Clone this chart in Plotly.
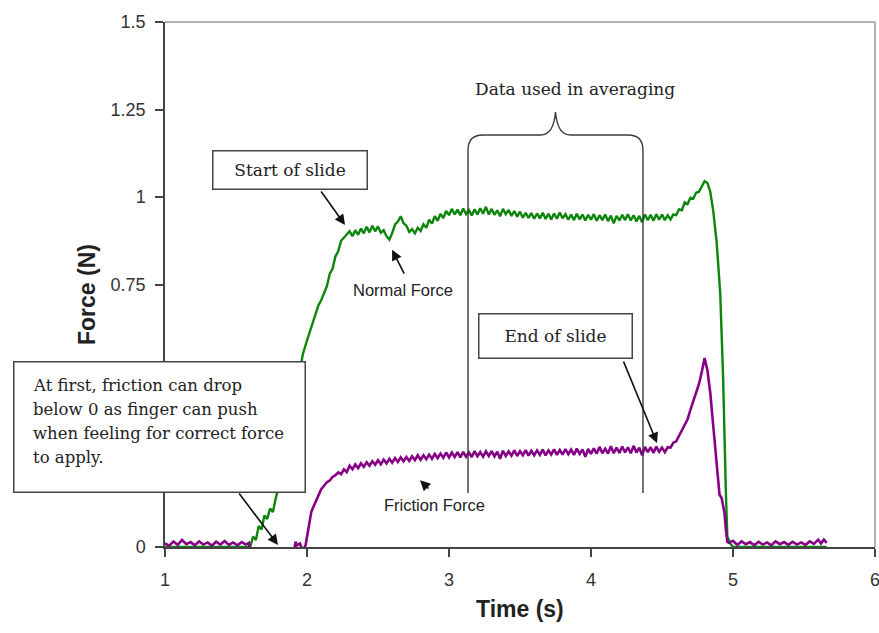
import plotly.graph_objects as go

# ---- measured traces (time in s, force in N) ----
normal_time = [
    1.00, 1.60, 1.62, 1.64, 1.66, 1.68, 1.70, 1.72, 1.74, 1.76, 1.78, 1.80, 1.90, 1.97,
    2.00, 2.02, 2.04, 2.06, 2.08, 2.10, 2.12, 2.14, 2.16, 2.18, 2.20, 2.22, 2.24, 2.26, 2.28,
    2.30, 2.32, 2.34, 2.36, 2.38, 2.40, 2.42, 2.44, 2.46, 2.48, 2.50, 2.52, 2.54, 2.56, 2.58,
    2.60, 2.62, 2.64, 2.66, 2.68, 2.70, 2.72, 2.74, 2.76, 2.78, 2.80, 2.82, 2.84, 2.86, 2.88,
    2.90, 2.92, 2.94, 2.96, 2.98, 3.00, 3.02, 3.04, 3.06, 3.08, 3.10, 3.12, 3.14, 3.16, 3.18,
    3.20, 3.22, 3.24, 3.26, 3.28, 3.30, 3.32, 3.34, 3.36, 3.38, 3.40, 3.42, 3.44, 3.46, 3.48,
    3.50, 3.52, 3.54, 3.56, 3.58, 3.60, 3.62, 3.64, 3.66, 3.68, 3.70, 3.72, 3.74, 3.76, 3.78,
    3.80, 3.82, 3.84, 3.86, 3.88, 3.90, 3.92, 3.94, 3.96, 3.98, 4.00, 4.02, 4.04, 4.06, 4.08,
    4.10, 4.12, 4.14, 4.16, 4.18, 4.20, 4.22, 4.24, 4.26, 4.28, 4.30, 4.32, 4.34, 4.36, 4.38,
    4.40, 4.42, 4.44, 4.46, 4.48, 4.50, 4.52, 4.54, 4.56, 4.58, 4.60, 4.62, 4.64, 4.66, 4.68,
    4.70, 4.72, 4.74, 4.76, 4.78, 4.80, 4.82, 4.84, 4.86, 4.885, 4.91, 4.93, 4.95, 4.96,
    4.98, 5.00, 5.66,
]
normal_force = [
    0.00, 0.00, 0.03, 0.02, 0.06, 0.05, 0.09, 0.08, 0.11, 0.10, 0.14, 0.17, 0.38, 0.55,
    0.59, 0.615, 0.64, 0.665, 0.69, 0.705, 0.725, 0.745, 0.78, 0.795, 0.83, 0.845, 0.875, 0.885, 0.892,
    0.902, 0.888, 0.905, 0.892, 0.910, 0.896, 0.915, 0.899, 0.918, 0.902, 0.916, 0.898, 0.905, 0.888, 0.878,
    0.897, 0.922, 0.930, 0.945, 0.925, 0.918, 0.900, 0.908, 0.896, 0.912, 0.903, 0.922, 0.912, 0.935, 0.924,
    0.945, 0.932, 0.952, 0.940, 0.960, 0.948, 0.966, 0.950, 0.964, 0.948, 0.967, 0.951, 0.963, 0.947, 0.965,
    0.950, 0.968, 0.952, 0.972, 0.950, 0.966, 0.949, 0.962, 0.945, 0.966, 0.951, 0.963, 0.946, 0.960, 0.944,
    0.958, 0.941, 0.955, 0.940, 0.954, 0.938, 0.953, 0.939, 0.955, 0.937, 0.952, 0.936, 0.953, 0.938, 0.956,
    0.939, 0.951, 0.935, 0.950, 0.934, 0.952, 0.936, 0.950, 0.933, 0.949, 0.935, 0.951, 0.932, 0.948, 0.934,
    0.950, 0.931, 0.947, 0.925, 0.946, 0.933, 0.949, 0.934, 0.951, 0.933, 0.948, 0.930, 0.946, 0.928, 0.950,
    0.934, 0.949, 0.932, 0.951, 0.935, 0.950, 0.934, 0.948, 0.936, 0.950, 0.948, 0.965, 0.962, 0.985, 0.980,
    0.998, 0.995, 1.012, 1.015, 1.030, 1.045, 1.040, 1.015, 0.963, 0.870, 0.725, 0.490, 0.154, 0.030,
    0.010, 0.000, 0.000,
]

friction_time = [
    1.00, 1.03, 1.06, 1.09, 1.12, 1.15, 1.18, 1.21, 1.24, 1.27, 1.30, 1.33, 1.36, 1.39,
    1.42, 1.45, 1.48, 1.51, 1.54, 1.57, 1.59, 1.61, 1.75, 1.90, 1.92, 1.93, 1.95, 1.97,
    1.99, 2.00, 2.01, 2.02, 2.03, 2.04, 2.06, 2.08, 2.10, 2.12, 2.14, 2.16, 2.18, 2.20,
    2.22, 2.24, 2.26, 2.28,
    2.30, 2.32, 2.34, 2.36, 2.38, 2.40, 2.42, 2.44, 2.46, 2.48, 2.50, 2.52, 2.54, 2.56, 2.58,
    2.60, 2.62, 2.64, 2.66, 2.68, 2.70, 2.72, 2.74, 2.76, 2.78, 2.80, 2.82, 2.84, 2.86, 2.88,
    2.90, 2.92, 2.94, 2.96, 2.98, 3.00, 3.02, 3.04, 3.06, 3.08, 3.10, 3.12, 3.14, 3.16, 3.18,
    3.20, 3.22, 3.24, 3.26, 3.28, 3.30, 3.32, 3.34, 3.36, 3.38, 3.40, 3.42, 3.44, 3.46, 3.48,
    3.50, 3.52, 3.54, 3.56, 3.58, 3.60, 3.62, 3.64, 3.66, 3.68, 3.70, 3.72, 3.74, 3.76, 3.78,
    3.80, 3.82, 3.84, 3.86, 3.88, 3.90, 3.92, 3.94, 3.96, 3.98, 4.00, 4.02, 4.04, 4.06, 4.08,
    4.10, 4.12, 4.14, 4.16, 4.18, 4.20, 4.22, 4.24, 4.26, 4.28, 4.30, 4.32, 4.34, 4.36, 4.38,
    4.40, 4.42, 4.44, 4.46, 4.48, 4.50, 4.52, 4.54, 4.56, 4.58, 4.60, 4.62, 4.64, 4.66, 4.68,
    4.70, 4.72, 4.74, 4.76, 4.78, 4.80, 4.82, 4.84, 4.86, 4.87, 4.89, 4.905, 4.92, 4.94, 4.95,
    4.96, 4.97, 5.00, 5.03, 5.06, 5.09, 5.12, 5.15, 5.18, 5.21, 5.24, 5.27, 5.30, 5.33, 5.36,
    5.39, 5.42, 5.45, 5.48, 5.51, 5.54, 5.57, 5.60, 5.62, 5.64, 5.66,
]
friction_force = [
    0.010, 0.004, 0.016, 0.006, 0.020, 0.008, 0.014, 0.005, 0.016, 0.007, 0.013, 0.004, 0.015, 0.007,
    0.017, 0.006, 0.013, 0.005, 0.014, 0.007, 0.012, -0.04, -0.05, -0.03, 0.015, 0.005, 0.010, -0.010,
    0.005, 0.030, 0.060, 0.080, 0.100, 0.110, 0.130, 0.150, 0.165, 0.175, 0.185, 0.190, 0.200, 0.205,
    0.213, 0.208, 0.222, 0.214,
    0.232, 0.222, 0.236, 0.225, 0.239, 0.229, 0.242, 0.232, 0.245, 0.235, 0.248, 0.236, 0.250, 0.239, 0.252,
    0.241, 0.254, 0.243, 0.256, 0.245, 0.257, 0.246, 0.259, 0.248, 0.262, 0.249, 0.262, 0.251, 0.264, 0.252,
    0.266, 0.254, 0.267, 0.255, 0.270, 0.256, 0.270, 0.257, 0.271, 0.256, 0.272, 0.258, 0.270, 0.257, 0.274,
    0.259, 0.271, 0.258, 0.273, 0.260, 0.274, 0.259, 0.272, 0.252, 0.275, 0.260, 0.273, 0.261, 0.276, 0.260,
    0.274, 0.262, 0.277, 0.261, 0.275, 0.262, 0.276, 0.263, 0.278, 0.262, 0.276, 0.264, 0.279, 0.263, 0.277,
    0.264, 0.280, 0.265, 0.278, 0.263, 0.281, 0.266, 0.279, 0.258, 0.280, 0.266, 0.282, 0.267, 0.286, 0.268,
    0.281, 0.267, 0.288, 0.268, 0.284, 0.269, 0.287, 0.270, 0.285, 0.268, 0.289, 0.270, 0.284, 0.262, 0.286,
    0.271, 0.285, 0.269, 0.287, 0.272, 0.284, 0.271, 0.285, 0.284, 0.298, 0.302, 0.318, 0.330, 0.350, 0.365,
    0.392, 0.415, 0.440, 0.465, 0.500, 0.540, 0.505, 0.440, 0.350, 0.300, 0.200, 0.150, 0.140, 0.097, 0.050,
    0.015, 0.012, 0.018, 0.006, 0.016, 0.008, 0.014, 0.005, 0.015, 0.007, 0.013, 0.005, 0.016, 0.008, 0.014,
    0.006, 0.015, 0.007, 0.013, 0.006, 0.016, 0.009, 0.021, 0.010, 0.021, 0.012,
]

# Averaging window (s)
avg_start, avg_end = 3.134, 4.366

x_ticks = [1, 2, 3, 4, 5, 6]
x_tick_text = ["1", "2", "3", "4", "5", "6"]
y_ticks = [0, 0.25, 0.5, 0.75, 1, 1.25, 1.5]
# 0.25 and 0.5 sit behind the note box, so they carry no label
y_tick_text = ["0", "", "", "0.75", "1", "1.25", "1.5"]

GREEN = "#0b850b"
PURPLE = "#860086"
SERIF = "DejaVu Serif"
SANS = "Liberation Sans, Arial"
INK = "#222222"
TICK_FONT = dict(family=SANS, size=18, color="#333333")

fig = go.Figure()
fig.add_trace(go.Scatter(x=normal_time, y=normal_force, mode="lines",
                         line=dict(color=GREEN, width=2.4), name="Normal Force"))
fig.add_trace(go.Scatter(x=friction_time, y=friction_force, mode="lines",
                         line=dict(color=PURPLE, width=2.6), name="Friction Force"))

W, H = 879, 633
L, R, T, B = 165, 4, 22, 86
PW, PH = W - L - R, H - T - B


def px(xp, yp):
    """pixel position -> paper coordinates"""
    return (xp - L) / PW, (H - B - yp) / PH


shapes = []
# plot-area border on top and right
shapes.append(dict(type="line", xref="paper", yref="paper", x0=0, x1=1, y0=1, y1=1,
                   line=dict(color="#9a9a9a", width=1.5)))
shapes.append(dict(type="line", xref="paper", yref="paper", x0=1, x1=1, y0=0, y1=1,
                   line=dict(color="#9a9a9a", width=1.5)))

# averaging window brace and bounding lines
yb_low, yb_corner, yb_top, yb_tip = 0.154, 1.134, 1.177, 1.243
mid = (avg_start + avg_end) / 2
c = 0.105
brace = (
    f"M {avg_start},{yb_low} L {avg_start},{yb_corner} "
    f"Q {avg_start},{yb_top} {avg_start + c},{yb_top} "
    f"L {mid - 0.105},{yb_top} Q {mid - 0.014},{yb_top} {mid},{yb_tip} "
    f"Q {mid + 0.014},{yb_top} {mid + 0.105},{yb_top} "
    f"L {avg_end - c},{yb_top} Q {avg_end},{yb_top} {avg_end},{yb_corner} "
    f"L {avg_end},{yb_low}"
)
shapes.append(dict(type="path", xref="x", yref="y", path=brace,
                   line=dict(color="#3a3a3a", width=1.4)))

annotations = []


def arrow(head, tail):
    annotations.append(dict(x=head[0], y=head[1], ax=tail[0], ay=tail[1],
                            xref="x", yref="y", axref="x", ayref="y", text="",
                            showarrow=True, arrowhead=2, arrowsize=1.3,
                            arrowwidth=1.6, arrowcolor="#111111"))


arrow((2.268, 0.92), (2.092, 1.02))       # start of slide
arrow((2.599, 0.849), (2.69, 0.777))      # normal force
arrow((4.465, 0.297), (4.225, 0.534))     # end of slide
arrow((1.796, 0.006), (1.514, 0.157))     # friction below zero
arrow((2.796, 0.191), (2.866, 0.163))     # friction force


def box(text, x0, y0, x1, y1, size=17):
    cx, cy = px((x0 + x1) / 2, (y0 + y1) / 2)
    annotations.append(dict(x=cx, y=cy, xref="paper", yref="paper", text=text,
                            showarrow=False, align="center", width=x1 - x0 - 5,
                            height=y1 - y0 - 5, bgcolor="white",
                            bordercolor="#444444", borderwidth=1.5, borderpad=1,
                            font=dict(family=SERIF, size=size, color=INK),
                            xanchor="center", yanchor="middle", valign="middle"))


def label(text, xp, yp, family, size, xanchor="center", **kw):
    x, y = px(xp, yp)
    annotations.append(dict(x=x, y=y, xref="paper", yref="paper", text=text,
                            showarrow=False, xanchor=xanchor, yanchor="middle",
                            font=dict(family=family, size=size, color=INK), **kw))


box("Start of slide", 212, 150, 368, 190)
box("End of slide", 478, 313, 633, 359)

# explanatory note: empty framed box, then one line of text per row
box(" ", 13, 361, 306, 493)
note_lines = ["At first, friction can drop", "below 0 as finger can push",
              "when feeling for correct force", "to apply."]
for i, line in enumerate(note_lines):
    label(line, 31, 385 + 24.3 * i, SERIF, 16.5, xanchor="left")

label("Normal Force", 403, 290, SANS, 16.5)
label("Friction Force", 434, 505, SANS, 16.5)
label("Data used in averaging", 575, 89, SERIF, 17)
label("<b>Force (N)</b>", 87, 295, SANS, 23, textangle=-90)
label("<b>Time (s)</b>", 520, 609, SANS, 23)

# last x tick label sits on the right edge of the page; place it explicitly
annotations.append(dict(x=x_ticks[-1], y=0, xref="x", yref="paper",
                        text=x_tick_text[-1], showarrow=False, xanchor="center",
                        yanchor="top", yshift=-21, font=TICK_FONT))

axis_common = dict(ticks="outside", ticklen=8, tickwidth=1.5, tickcolor="#444444",
                   showline=True, linecolor="#444444", linewidth=1.5, showgrid=False,
                   zeroline=False, tickfont=TICK_FONT)

fig.update_layout(
    width=W, height=H, margin=dict(l=L, r=R, t=T, b=B),
    paper_bgcolor="white", plot_bgcolor="white", showlegend=False,
    shapes=shapes, annotations=annotations,
    xaxis=dict(range=[1, 6], tickvals=x_ticks, ticktext=x_tick_text[:-1] + [""],
               ticklabelstandoff=8, **axis_common),
    yaxis=dict(range=[0, 1.5], tickvals=y_ticks, ticktext=y_tick_text,
               ticklabelstandoff=6, **axis_common),
)

fig.write_html("out.html")
